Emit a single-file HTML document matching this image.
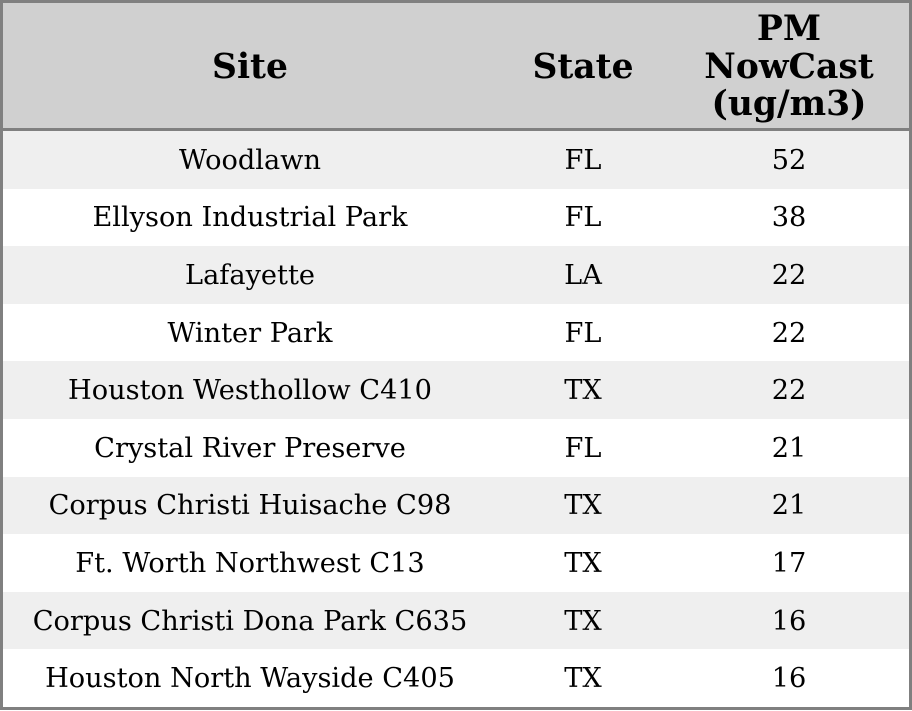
<!DOCTYPE html>
<html>
<head>
<meta charset="utf-8">
<style>
  html, body { margin:0; padding:0; background:#fff; }
  body { width:912px; height:711px; position:relative; overflow:hidden;
         font-family:"DejaVu Serif","Liberation Serif",serif; color:#000; }
  .frame { position:absolute; left:0; top:0; width:906px; height:704px;
           border:3px solid #808080; }
  .hdr { position:absolute; left:3px; top:3px; width:906px; height:125px; background:#d0d0d0; }
  .hline { position:absolute; left:0; top:128px; width:912px; height:3px; background:#808080; }
  .row { position:absolute; left:3px; width:906px; height:57.6px; }
  .cell { position:absolute; top:0; height:100%; display:flex; align-items:center; justify-content:center;
          font-size:27.2px; white-space:nowrap; padding-top:1px; box-sizing:border-box; }
  .hcell { position:absolute; top:5px; height:125px; display:flex; align-items:center; justify-content:center;
           font-weight:bold; font-size:34.5px; line-height:37.5px; text-align:center; }
  .c1 { left:0; width:494px; }
  .c2 { left:494px; width:172px; }
  .c3 { left:666px; width:240px; }
  .h1 { left:3px; width:494px; }
  .h2 { left:497px; width:172px; }
  .h3 { left:669px; width:240px; }
</style>
</head>
<body>
<div class="hdr"></div>
<div class="hcell h1">Site</div>
<div class="hcell h2">State</div>
<div class="hcell h3">PM<br>NowCast<br>(ug/m3)</div>

<div class="row" style="top:131px;background:#efefef"><div class="cell c1">Woodlawn</div><div class="cell c2">FL</div><div class="cell c3">52</div></div>
<div class="row" style="top:188.6px;background:#fff"><div class="cell c1">Ellyson Industrial Park</div><div class="cell c2">FL</div><div class="cell c3">38</div></div>
<div class="row" style="top:246.2px;background:#efefef"><div class="cell c1">Lafayette</div><div class="cell c2">LA</div><div class="cell c3">22</div></div>
<div class="row" style="top:303.8px;background:#fff"><div class="cell c1">Winter Park</div><div class="cell c2">FL</div><div class="cell c3">22</div></div>
<div class="row" style="top:361.4px;background:#efefef"><div class="cell c1">Houston Westhollow C410</div><div class="cell c2">TX</div><div class="cell c3">22</div></div>
<div class="row" style="top:419px;background:#fff"><div class="cell c1">Crystal River Preserve</div><div class="cell c2">FL</div><div class="cell c3">21</div></div>
<div class="row" style="top:476.6px;background:#efefef"><div class="cell c1">Corpus Christi Huisache C98</div><div class="cell c2">TX</div><div class="cell c3">21</div></div>
<div class="row" style="top:534.2px;background:#fff"><div class="cell c1">Ft. Worth Northwest C13</div><div class="cell c2">TX</div><div class="cell c3">17</div></div>
<div class="row" style="top:591.8px;background:#efefef"><div class="cell c1">Corpus Christi Dona Park C635</div><div class="cell c2">TX</div><div class="cell c3">16</div></div>
<div class="row" style="top:649.4px;background:#fff"><div class="cell c1">Houston North Wayside C405</div><div class="cell c2">TX</div><div class="cell c3">16</div></div>

<div class="hline"></div>
<div class="frame"></div>
</body>
</html>
